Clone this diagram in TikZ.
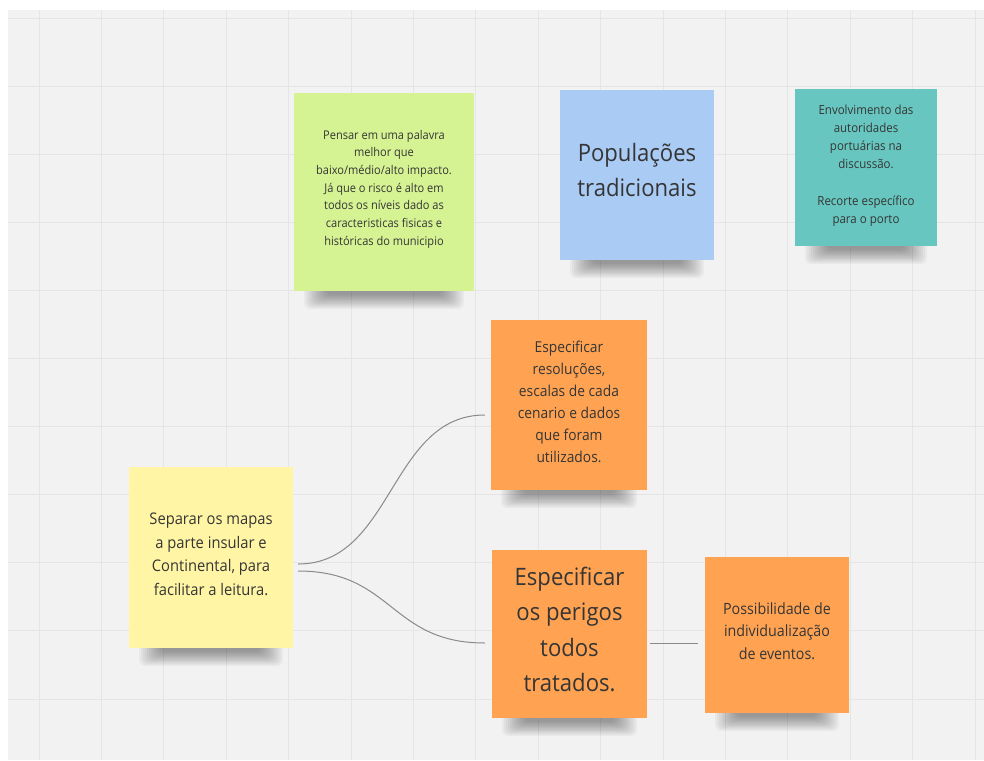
\documentclass[tikz,border=0pt]{standalone}
\usepackage{fontspec}
\setmainfont{Open Sans}[FakeStretch=0.92]
\usetikzlibrary{calc}
\definecolor{canvasbg}{HTML}{F2F2F2}
\definecolor{gridc}{HTML}{E5E5E5}
\definecolor{notegreen}{HTML}{D5F393}
\definecolor{noteblue}{HTML}{A9CBF4}
\definecolor{noteteal}{HTML}{67C6BF}
\definecolor{noteorange}{HTML}{FFA352}
\definecolor{noteyellow}{HTML}{FFF5A5}
\definecolor{inkc}{HTML}{353535}
\definecolor{connc}{HTML}{8A8A8A}
\newcommand\noteshadow[3]{%
  \foreach \k in {0,...,11}{%
    \fill[black,opacity=0.035,rounded corners=6pt] ({#1+10+2*\k},{#3-20}) rectangle ({#2-10-2*\k},{#3+18-1.3*\k});}}
\begin{document}
\begin{tikzpicture}[x=1pt,y=-1pt,
  note/.style={rectangle,inner sep=0pt},
  notetext/.style={inner sep=0pt,align=center,text=inkc},
  gridline/.style={draw=gridc,line width=0.9pt},
  conn/.style={draw=connc,line width=1pt}]
\useasboundingbox (0,0) rectangle (984,760);
\fill[white] (0,0) rectangle (984,760);
\fill[canvasbg] (8,10) rectangle (984,760);
\foreach \k in {0,...,15}{\draw[gridline] ({39+62.4*\k},10) -- ({39+62.4*\k},760);}
\foreach \k in {0,...,10}{\draw[gridline] (8,{18+68.1*\k}) -- (984,{18+68.1*\k});}
% shadows
\noteshadow{294}{474}{291}
\noteshadow{560}{714}{260}
\noteshadow{795}{937}{246}
\noteshadow{491}{647}{490}
\noteshadow{129}{293}{648}
\noteshadow{492}{647}{718}
\noteshadow{705}{849}{713}
% notes
\node[note,fill=notegreen,minimum width=180pt,minimum height=198pt] (green) at (384,192) {};
\node[note,fill=noteblue,minimum width=154pt,minimum height=170pt] (blue) at (637,175) {};
\node[note,fill=noteteal,minimum width=142pt,minimum height=157pt] (teal) at (866,167.5) {};
\node[note,fill=noteorange,minimum width=156pt,minimum height=170pt] (orangeA) at (569,405) {};
\node[note,fill=noteyellow,minimum width=164pt,minimum height=181pt] (yellow) at (211,557.5) {};
\node[note,fill=noteorange,minimum width=155pt,minimum height=168pt] (orangeB) at (569.5,634) {};
\node[note,fill=noteorange,minimum width=144pt,minimum height=156pt] (orangeC) at (777,635) {};
% texts
\node[notetext,font=\fontsize{12}{17.7}\selectfont] (greenT) at ($(green.center)+(0,-3)$)
  {Pensar em uma palavra\\melhor que\\baixo/médio/alto impacto.\\Já que o risco é alto em\\todos os níveis dado as\\caracteristicas fisicas e\\históricas do municipio};
\node[notetext,font=\fontsize{24}{35}\selectfont] (blueT) at ($(blue.center)+(0,-5)$)
  {Populações\\tradicionais};
\node[notetext,font=\fontsize{12.5}{18.2}\selectfont] (tealT) at ($(teal.center)+(0,-2)$)
  {Envolvimento das\\autoridades\\portuárias na\\discussão.\\[18.2pt]Recorte específico\\para o porto};
\node[notetext,font=\fontsize{15}{22}\selectfont] (orangeAT) at ($(orangeA.center)+(0,-3)$)
  {Especificar\\resoluções,\\escalas de cada\\cenario e dados\\que foram\\utilizados.};
\node[notetext,font=\fontsize{16}{23.6}\selectfont] (yellowT) at ($(yellow.center)+(0,-3)$)
  {Separar os mapas\\a parte insular e\\Continental, para\\facilitar a leitura.};
\node[notetext,font=\fontsize{24}{35.5}\selectfont] (orangeBT) at ($(orangeB.center)+(0,-4.5)$)
  {Especificar\\os perigos\\todos\\tratados.};
\node[notetext,font=\fontsize{15.5}{22.5}\selectfont] (orangeCT) at ($(orangeC.center)+(0,-4)$)
  {Possibilidade de\\individualização\\de eventos.};
% connectors
\coordinate (s1) at ($(yellow.east)+(5,6.5)$);
\coordinate (s2) at ($(yellow.east)+(5,13.5)$);
\coordinate (e1) at ($(orangeA.west)+(-6,10)$);
\coordinate (e2) at ($(orangeB.west)+(-7,9)$);
\coordinate (s3) at ($(orangeB.east)+(3,9)$);
\coordinate (e3) at ($(orangeC.west)+(-7,8)$);
\draw[conn] (s1) .. controls ($(s1)+(95,0)$) and ($(e1)+(-95,0)$) .. (e1);
\draw[conn] (s2) .. controls ($(s2)+(95,0)$) and ($(e2)+(-95,0)$) .. (e2);
\draw[conn] (s3) -- (e3);
\end{tikzpicture}
\end{document}
